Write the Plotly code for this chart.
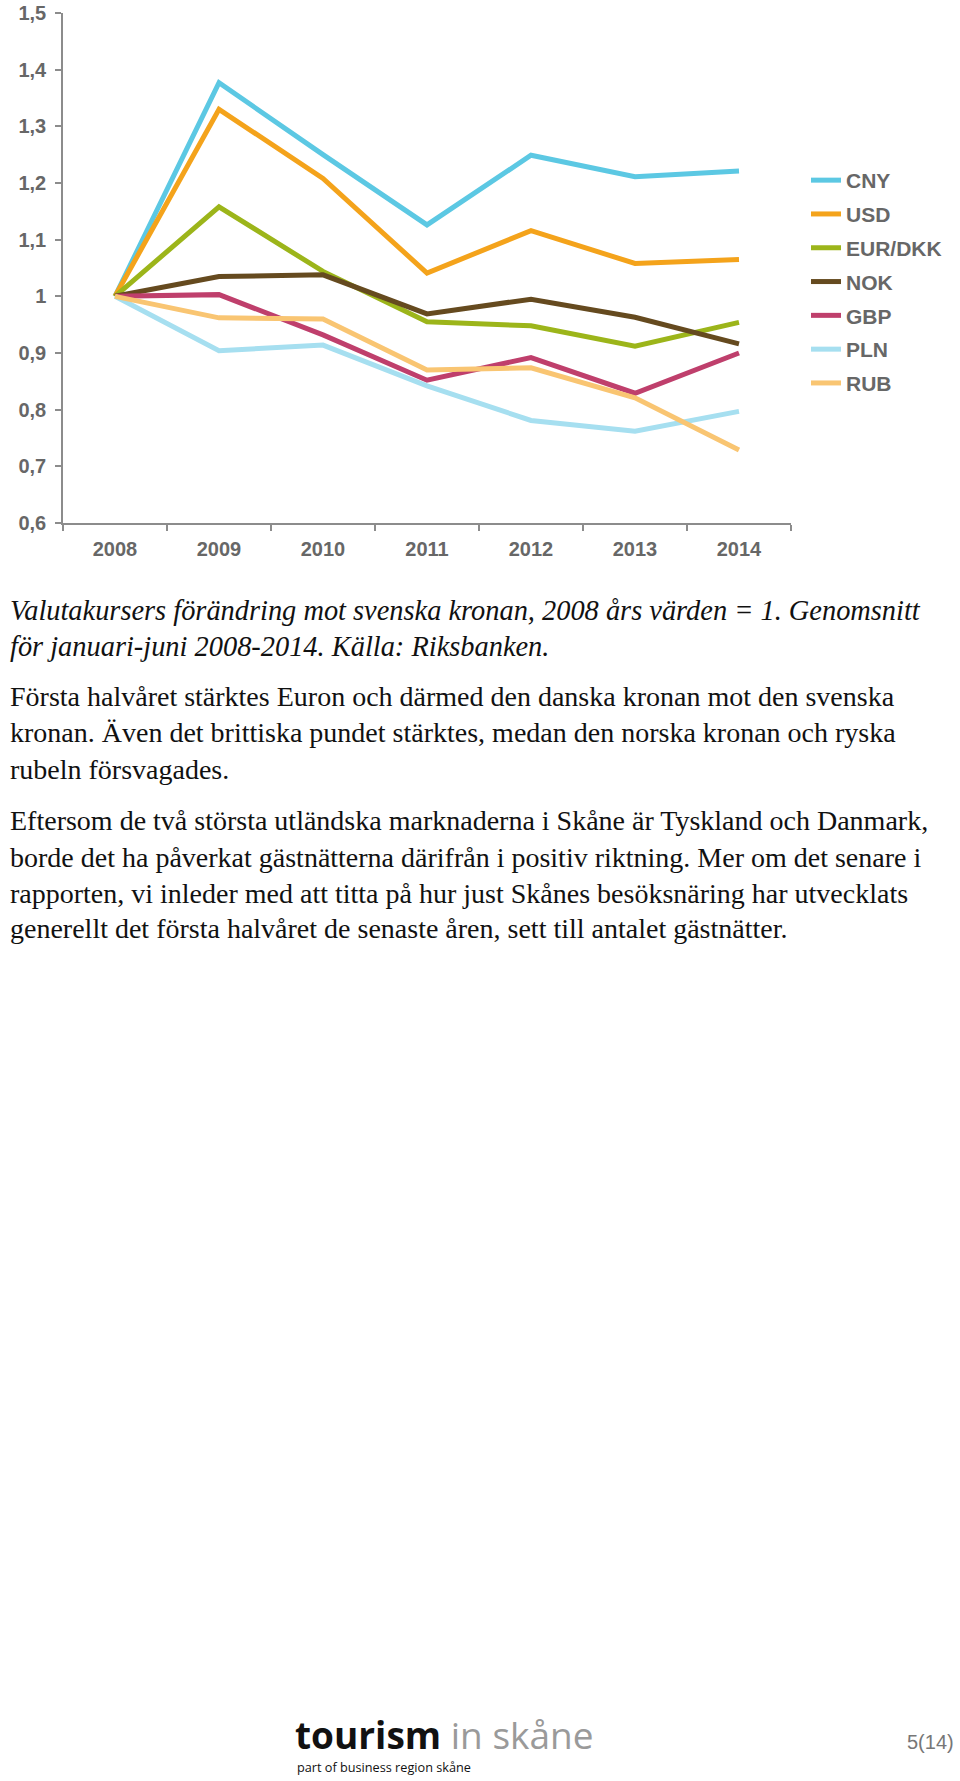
import plotly.graph_objects as go

years = ["2008", "2009", "2010", "2011", "2012", "2013", "2014"]

cny = [1.0, 1.377, 1.250, 1.126, 1.249, 1.211, 1.221]
usd = [1.0, 1.330, 1.208, 1.041, 1.116, 1.058, 1.065]
eur_dkk = [1.0, 1.158, 1.044, 0.955, 0.948, 0.912, 0.954]
nok = [1.0, 1.035, 1.038, 0.969, 0.995, 0.963, 0.916]
gbp = [1.0, 1.003, 0.932, 0.852, 0.892, 0.829, 0.900]
pln = [1.0, 0.904, 0.914, 0.842, 0.781, 0.762, 0.797]
rub = [1.0, 0.962, 0.960, 0.870, 0.874, 0.821, 0.729]

series_names = ["CNY", "USD", "EUR/DKK", "NOK", "GBP", "PLN", "RUB"]
series_values = [cny, usd, eur_dkk, nok, gbp, pln, rub]
series_colors = ["#5cc8e3", "#f4a31b", "#9cb51a", "#654a1f", "#bf3f6c", "#a6dff0", "#f9c572"]

y_tickvals = [0.6, 0.7, 0.8, 0.9, 1.0, 1.1, 1.2, 1.3, 1.4, 1.5]
y_ticktext = ["0,6", "0,7", "0,8", "0,9", "1", "1,1", "1,2", "1,3", "1,4", "1,5"]

caption_lines = [
    "Valutakursers förändring mot svenska kronan, 2008 års värden = 1. Genomsnitt",
    "för januari-juni 2008-2014. Källa: Riksbanken.",
]
para1_lines = [
    "Första halvåret stärktes Euron och därmed den danska kronan mot den svenska",
    "kronan. Även det brittiska pundet stärktes, medan den norska kronan och ryska",
    "rubeln försvagades.",
]
para2_lines = [
    "Eftersom de två största utländska marknaderna i Skåne är Tyskland och Danmark,",
    "borde det ha påverkat gästnätterna därifrån i positiv riktning. Mer om det senare i",
    "rapporten, vi inleder med att titta på hur just Skånes besöksnäring har utvecklats",
    "generellt det första halvåret de senaste åren, sett till antalet gästnätter.",
]

W, H = 960, 1781
ML, MR, MT, MB = 63, 169, 13, 1258
PW = W - ML - MR
PH = H - MT - MB


def px_x(px):
    return (px - ML) / PW


def px_y(py):
    return (H - MB - py) / PH


fig = go.Figure()
for name, vals, col in zip(series_names, series_values, series_colors):
    fig.add_trace(go.Scatter(
        x=years, y=vals, name=name, mode="lines",
        line=dict(color=col, width=5),
        legendgroup=name,
    ))

axis_col = "#8c8c8c"
tick_font = dict(family="Liberation Sans", size=20, color="#676767", weight="bold")

fig.update_layout(
    width=W, height=H,
    margin=dict(l=ML, r=MR, t=MT, b=MB, pad=0, autoexpand=False),
    paper_bgcolor="white", plot_bgcolor="white",
    showlegend=True,
    legend=dict(
        x=px_x(806), xanchor="left",
        y=px_y(160), yanchor="top",
        tracegroupgap=3.5,
        font=dict(family="Liberation Sans", size=21, color="#676767", weight="bold"),
        bgcolor="rgba(0,0,0,0)",
    ),
    xaxis=dict(
        type="category", range=[-0.5, 6.5], automargin=False,
        showline=True, linecolor=axis_col, linewidth=1.5,
        ticks="outside", ticklen=6, tickcolor=axis_col, tickwidth=1.5,
        tickson="boundaries", showgrid=False, zeroline=False,
        tickfont=tick_font, ticklabelstandoff=7,
    ),
    yaxis=dict(
        range=[0.6, 1.5], tickvals=y_tickvals, ticktext=y_ticktext, automargin=False,
        showline=True, linecolor=axis_col, linewidth=1.5,
        ticks="outside", ticklen=6, tickcolor=axis_col, tickwidth=1.5,
        showgrid=False, zeroline=False,
        tickfont=tick_font, ticklabelstandoff=5,
        ticklabeloverflow="allow",
    ),
)

annots = []
body_font = dict(family="Liberation Serif", size=28, color="#111111")
cap_font = dict(family="Liberation Serif", size=28.4, color="#111111")
cap_y = [610, 646]
for txt, yy in zip(caption_lines, cap_y):
    annots.append(dict(text="<i>" + txt + "</i>", x=px_x(8), y=px_y(yy), xref="paper", yref="paper",
                       xanchor="left", yanchor="middle", showarrow=False, font=cap_font))
p1_y = [696, 733, 769]
for txt, yy in zip(para1_lines, p1_y):
    annots.append(dict(text=txt, x=px_x(8), y=px_y(yy), xref="paper", yref="paper",
                       xanchor="left", yanchor="middle", showarrow=False, font=body_font))
p2_y = [820, 857, 893, 929]
for txt, yy in zip(para2_lines, p2_y):
    annots.append(dict(text=txt, x=px_x(8), y=px_y(yy), xref="paper", yref="paper",
                       xanchor="left", yanchor="middle", showarrow=False, font=body_font))

# footer
annots.append(dict(text="<b>tourism</b> <span style='color:#9a9a9a'>in skåne</span>",
                   x=px_x(293), y=px_y(1734), xref="paper", yref="paper",
                   xanchor="left", yanchor="middle", showarrow=False,
                   font=dict(family="Open Sans", size=37, color="#111111")))
annots.append(dict(text="part of business region skåne",
                   x=px_x(295), y=px_y(1767), xref="paper", yref="paper",
                   xanchor="left", yanchor="middle", showarrow=False,
                   font=dict(family="Open Sans", size=12.7, color="#111111")))
annots.append(dict(text="5(14)",
                   x=px_x(956), y=px_y(1742), xref="paper", yref="paper",
                   xanchor="right", yanchor="middle", showarrow=False,
                   font=dict(family="Liberation Sans", size=20, color="#777777")))

fig.update_layout(annotations=annots)

fig.write_html("out.html")
